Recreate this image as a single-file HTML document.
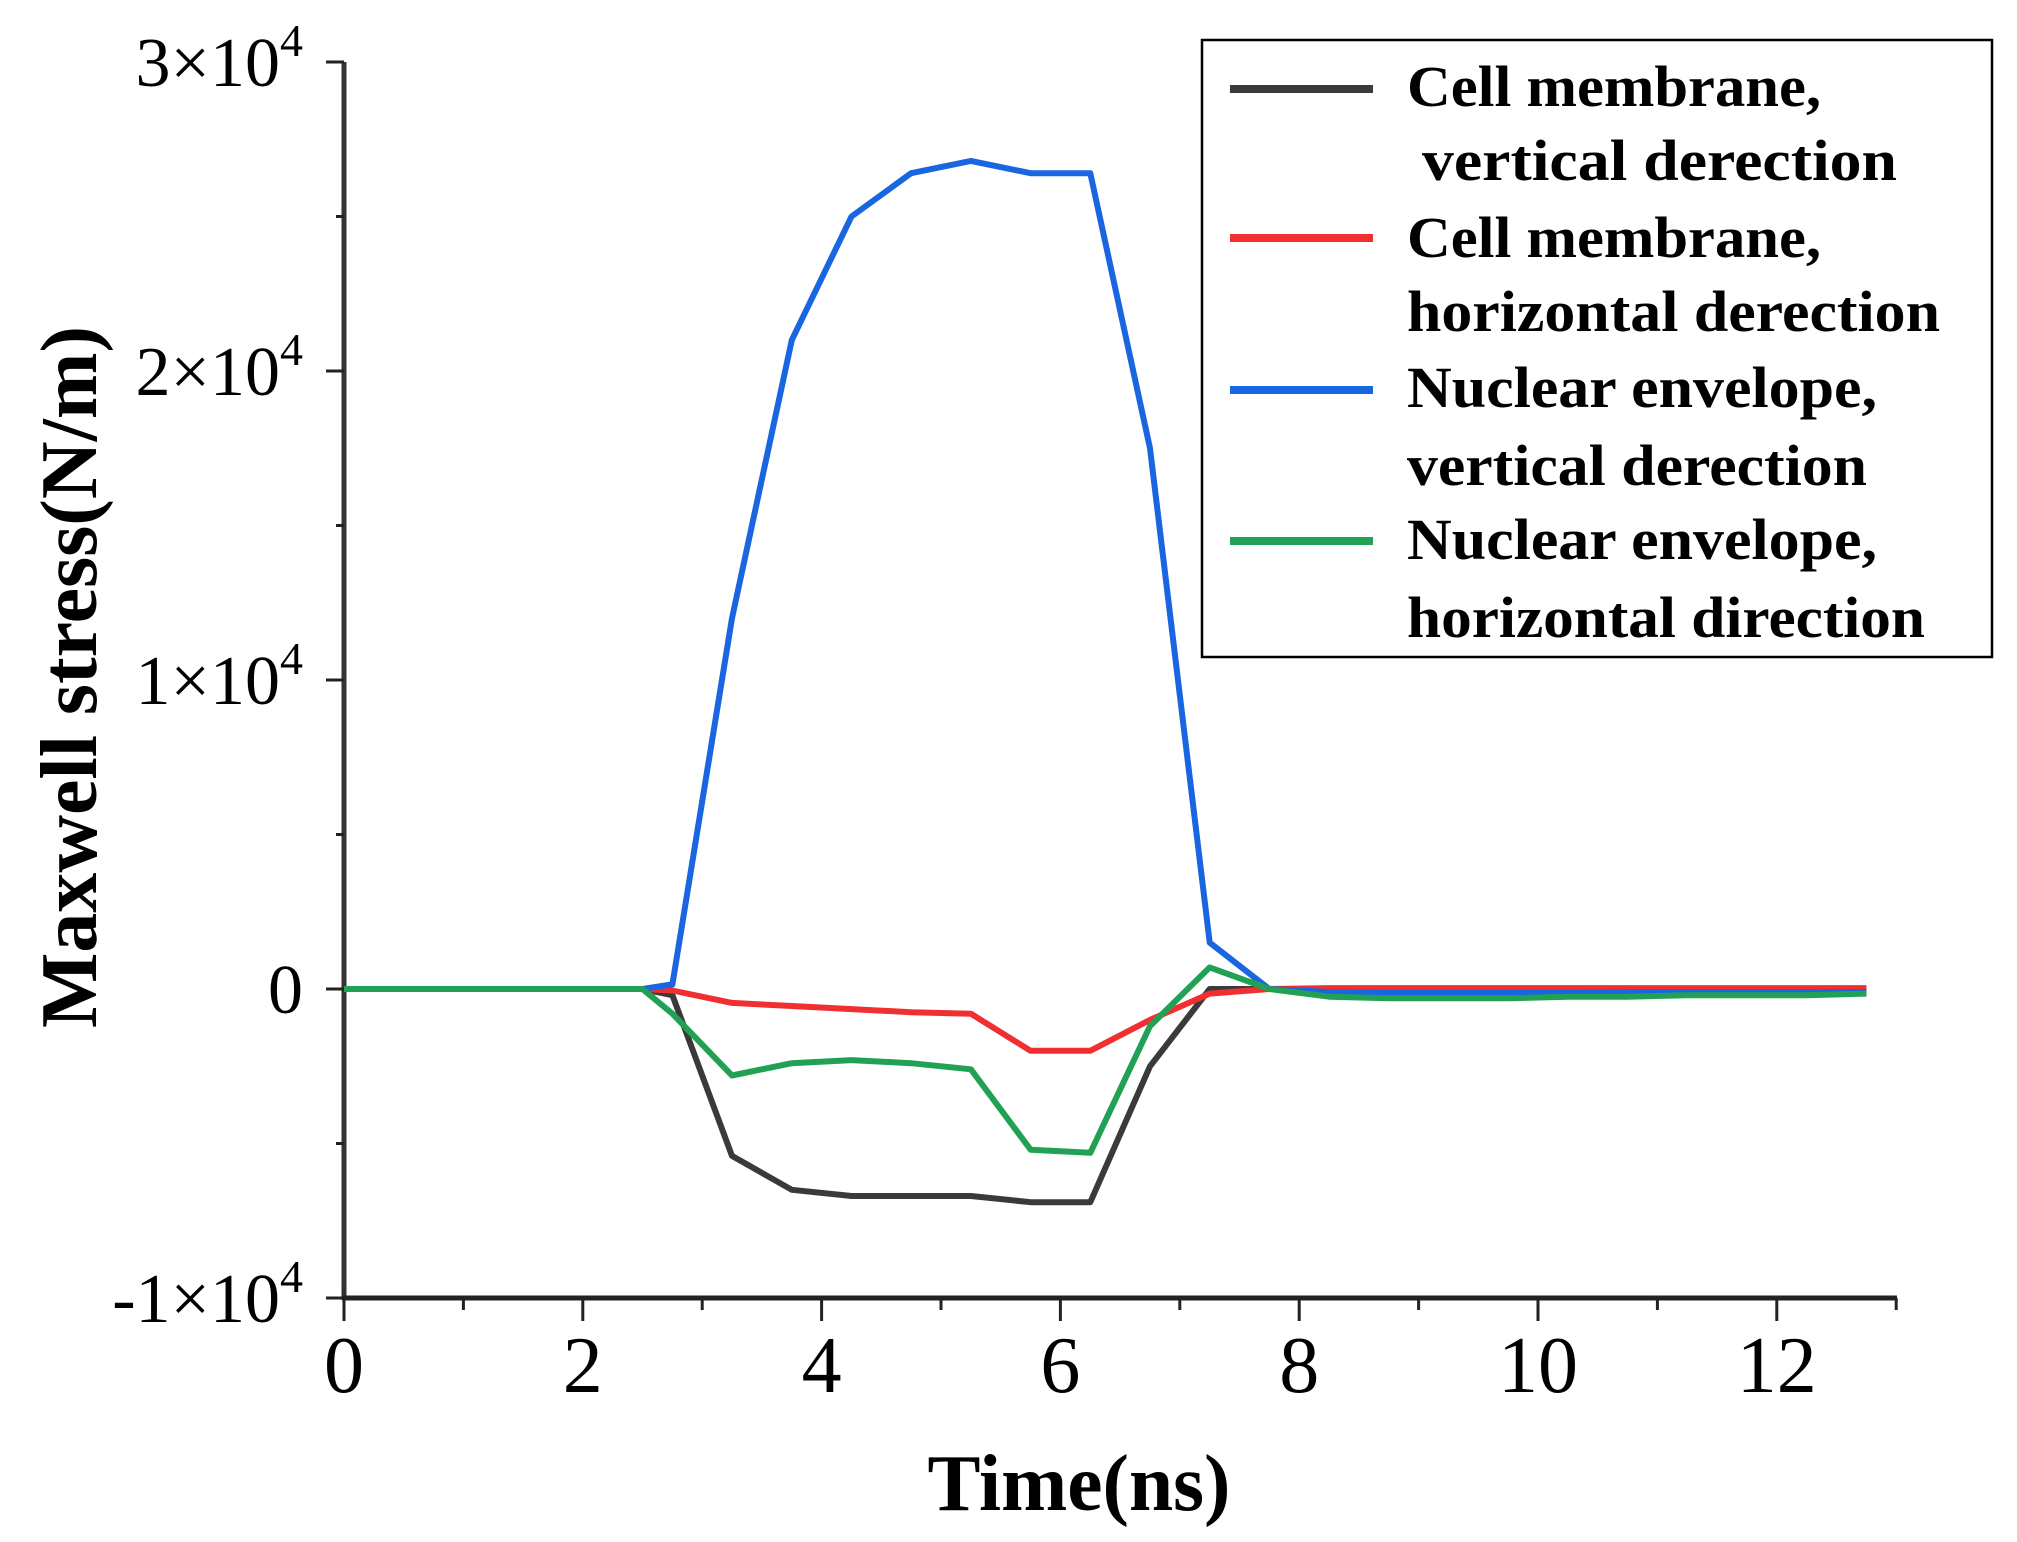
<!DOCTYPE html>
<html><head><meta charset="utf-8"><style>
html,body{margin:0;padding:0;background:#fff;}
svg{display:block;}
text{font-family:"Liberation Serif",serif;fill:#000;}
</style></head><body>
<svg id="chart" width="2017" height="1542" viewBox="0 0 2017 1542" xmlns="http://www.w3.org/2000/svg">
<g id="axes"></g>
<g id="series"></g>
<text x="1079" y="1510" font-size="80" font-weight="bold" text-anchor="middle" textLength="303" lengthAdjust="spacingAndGlyphs">Time(ns)</text>
<text transform="translate(96,677) rotate(-90)" font-size="80" font-weight="bold" text-anchor="middle" textLength="702" lengthAdjust="spacingAndGlyphs">Maxwell stress(N/m)</text>
<g id="legend">
<rect x="1202" y="40" width="790" height="617" fill="#fff" stroke="#000" stroke-width="2.5"/>
</g>
</svg>
<script>
const times = [0,0.5,1,1.5,2,2.5,2.75,3.25,3.75,4.25,4.75,5.25,5.75,6.25,6.75,7.25,7.75,8.25,8.75,9.25,9.75,10.25,10.75,11.25,11.75,12.25,12.75];
const cellVertical = [0,0,0,0,0,0,-200,-5400,-6500,-6700,-6700,-6700,-6900,-6900,-2500,0,0,0,0,0,0,0,0,0,0,0,0];
const cellHorizontal = [0,0,0,0,0,0,-50,-450,-550,-650,-750,-800,-2000,-2000,-1000,-150,0,30,30,30,30,30,30,30,30,30,30];
const nuclearVertical = [0,0,0,0,0,0,150,12000,21000,25000,26400,26800,26400,26400,17500,1500,0,-100,-120,-120,-120,-120,-100,-100,-100,-100,-100];
const nuclearHorizontal = [0,0,0,0,0,0,-800,-2800,-2400,-2300,-2400,-2600,-5200,-5300,-1200,700,0,-250,-300,-300,-300,-250,-250,-200,-200,-200,-150];
const xTicks = [0,2,4,6,8,10,12];
const xTickLabels = ["0","2","4","6","8","10","12"];
const yTicks = [30000,20000,10000,0,-10000];
const yTickLabels = ["3×10","2×10","1×10","0","-1×10"];

const NS="http://www.w3.org/2000/svg";
const X0=344, PXN=119.4, Y0=989, PY=309/10000;
function xs(t){return X0+t*PXN;}
function ys(v){return Y0-v*PY;}
function mk(tag,attrs,parent){const e=document.createElementNS(NS,tag);for(const k in attrs)e.setAttribute(k,attrs[k]);parent.appendChild(e);return e;}
const axes=document.getElementById('axes');
const yTop=ys(30000), yBot=ys(-10000);
let e=mk('line',{x1:X0,y1:yTop,x2:X0,y2:yBot+2,stroke:'#333','stroke-width':5},axes);


e=mk('line',{x1:X0-2,y1:yBot,x2:1897,y2:yBot,stroke:'#222','stroke-width':5},axes);


for(let t=0;t<=13;t++){
  const major=t%2===0;
  e=mk('line',{x1:xs(t),y1:yBot,x2:xs(t),y2:yBot+(major?23:12),stroke:'#222','stroke-width':3},axes);
  
  
}
xTicks.forEach((t,i)=>{
  e=mk('text',{x:xs(t),y:1392,'font-size':80,'text-anchor':'middle'},axes);
  e.textContent=xTickLabels[i];
  
  
});
for(let v=-10000;v<=30000;v+=5000){
  const major=v%10000===0;
  e=mk('line',{x1:X0-(major?18:8),y1:ys(v),x2:X0,y2:ys(v),stroke:'#222','stroke-width':3},axes);
  
  
}
yTicks.forEach((v,i)=>{
  e=mk('text',{x:303,y:ys(v)+24,'font-size':70,'text-anchor':'end'},axes);
  
  
  if(v===0){e.textContent='0';}
  else{
    e.appendChild(document.createTextNode(yTickLabels[i]));
    const s=document.createElementNS(NS,'tspan');
    s.setAttribute('dy','-30');s.setAttribute('font-size','46');
    s.textContent='4';e.appendChild(s);
  }
});
const series=[
  {name:'cell-membrane-vertical-line',vals:cellVertical,color:'#3a3a3a'},
  {name:'cell-membrane-horizontal-line',vals:cellHorizontal,color:'#f03030'},
  {name:'nuclear-envelope-vertical-line',vals:nuclearVertical,color:'#1a66e0'},
  {name:'nuclear-envelope-horizontal-line',vals:nuclearHorizontal,color:'#22a155'}
];
const sg=document.getElementById('series');
series.forEach(s=>{
  const d=s.vals.map((v,i)=>(i?'L':'M')+xs(times[i]).toFixed(1)+' '+ys(v).toFixed(1)).join(' ');
  const p=mk('path',{d:d,fill:'none',stroke:s.color,'stroke-width':6,'stroke-linejoin':'round'},sg);
  
  
});
const leg=document.getElementById('legend');
const legendRows=[
  {y:89,color:'#3a3a3a',l1:'Cell membrane,',l2:' vertical derection',w1:414,w2:475,x2:1422,b1:106,b2:180},
  {y:238,color:'#f03030',l1:'Cell membrane,',l2:'horizontal derection',w1:414,w2:533,x2:1407,b1:257,b2:331},
  {y:390,color:'#1a66e0',l1:'Nuclear envelope,',l2:'vertical derection',w1:470,w2:460,x2:1407,b1:407,b2:485},
  {y:541,color:'#22a155',l1:'Nuclear envelope,',l2:'horizontal direction',w1:470,w2:518,x2:1407,b1:559,b2:637}
];
legendRows.forEach(r=>{
  e=mk('line',{x1:1230,y1:r.y,x2:1373,y2:r.y,stroke:r.color,'stroke-width':8},leg);
  
  
  e=mk('text',{x:1407,y:r.b1,'font-size':58,'font-weight':'bold',textLength:r.w1,lengthAdjust:'spacingAndGlyphs'},leg);
  e.textContent=r.l1;
  
  
  e=mk('text',{x:r.x2,y:r.b2,'font-size':58,'font-weight':'bold',textLength:r.w2,lengthAdjust:'spacingAndGlyphs'},leg);
  e.textContent=r.l2.trim();
  
  
});
</script>
</body></html>
